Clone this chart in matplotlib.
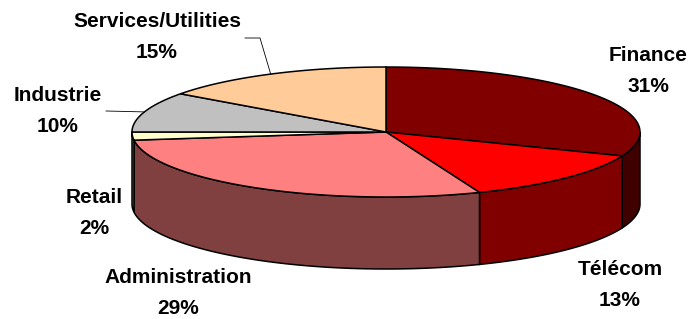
import numpy as np
import matplotlib.pyplot as plt
from matplotlib.patches import Polygon

# slice data, clockwise from 12 o'clock
labels = ['Finance', 'Télécom', 'Administration', 'Retail', 'Industrie', 'Services/Utilities']
shares = [31, 13, 29, 2, 10, 15]
top_colors = ['#800000', '#FF0000', '#FF8080', '#FFFFCC', '#C0C0C0', '#FFCC99']
side_colors = ['#400000', '#800000', '#804040', '#808066', '#606060', '#80664C']

# label positions (pixels) and leader line starts
label_pos = [(648, 71), (620, 285), (178, 293), (94, 213), (58, 111), (157, 37)]
leaders = {4: (106, 111), 5: (245, 38)}

# pie geometry in pixel space
cx, cy = 386, 132
a, b = 254, 65
depth = 72

plt.rcParams['font.family'] = ['Liberation Sans', 'DejaVu Sans']

fig = plt.figure(figsize=(6.89, 3.19), dpi=100)
ax = fig.add_axes([0, 0, 1, 1])
ax.set_xlim(0, 689)
ax.set_ylim(319, 0)
ax.axis('off')


def arc(t0, t1, dy=0, n=80):
    t = np.radians(np.linspace(t0, t1, n))
    return np.column_stack([cx + a * np.cos(t), cy - b * np.sin(t) + dy])


total = sum(shares)
starts = []
ends = []
cum = 0
for s in shares:
    starts.append(90 - cum / total * 360)
    cum += s
    ends.append(90 - cum / total * 360)

# side walls (front half only)
for i in range(len(shares)):
    hi = min(starts[i], 0)
    lo = max(ends[i], -180)
    if hi <= lo:
        continue
    top = arc(hi, lo)
    bot = arc(lo, hi, dy=depth)
    ax.add_patch(Polygon(np.vstack([top, bot]), closed=True,
                         facecolor=side_colors[i], edgecolor='black', lw=1.1))

# top faces
for i in range(len(shares)):
    pts = np.vstack([[cx, cy], arc(starts[i], ends[i])])
    ax.add_patch(Polygon(pts, closed=True, facecolor=top_colors[i],
                         edgecolor='black', lw=1.1))

# labels
for i, (x, y) in enumerate(label_pos):
    ax.text(x, y, f'{labels[i]}\n{shares[i]}%', ha='center', va='center',
            fontsize=15, fontweight='bold', linespacing=1.8)

# leader lines
for i, (x0, y0) in leaders.items():
    mid = np.radians((starts[i] + ends[i]) / 2)
    x1, y1 = cx + a * np.cos(mid), cy - b * np.sin(mid)
    if i == 5:
        ax.plot([x0, x0 + 15, x1], [y0, y0, y1], color='black', lw=0.6)
    else:
        ax.plot([x0, x1], [y0, y1], color='black', lw=0.6)

fig.savefig('out.png', dpi=100)
